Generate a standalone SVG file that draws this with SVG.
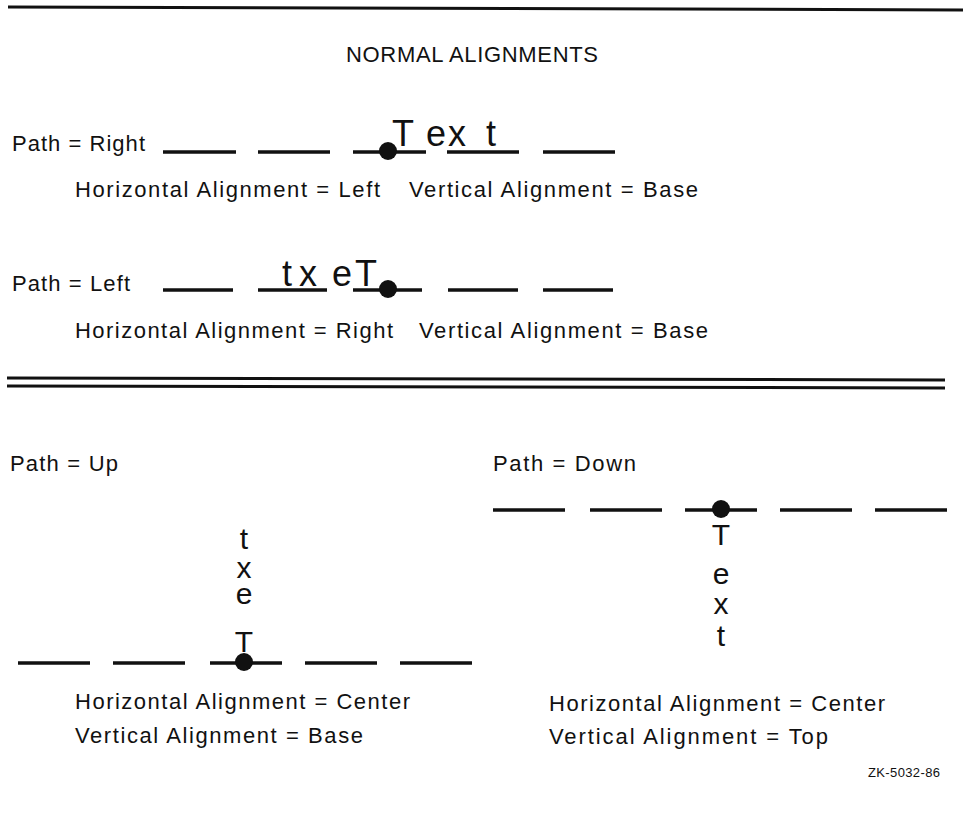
<svg xmlns="http://www.w3.org/2000/svg" width="972" height="819" viewBox="0 0 972 819">
<style>
.lbl{font-family:"Liberation Sans",Arial,sans-serif;font-size:22px;fill:#111}
.big{font-family:"Liberation Sans",Arial,sans-serif;font-size:36px;fill:#111}
.vt{font-family:"Liberation Sans",Arial,sans-serif;font-size:30px;fill:#111;text-anchor:middle}
.ln{stroke:#111;stroke-width:3.5;fill:none}
.rule{stroke:#111;stroke-width:3;fill:none}
.dot{fill:#111}
</style>
<rect width="972" height="819" fill="#fff"/>
<g id="rules">
<line class="rule" x1="8" y1="7" x2="963" y2="10"/>
<line class="rule" x1="7" y1="378" x2="945" y2="380"/>
<line class="rule" x1="7" y1="386" x2="945" y2="388"/>
</g>
<text class="lbl" x="346" y="62" textLength="252">NORMAL ALIGNMENTS</text>

<g id="row-right">
<text class="lbl" x="12" y="151" textLength="133">Path = Right</text>
<g class="ln">
<line x1="163" y1="152" x2="236" y2="152"/>
<line x1="258" y1="152" x2="330" y2="152"/>
<line x1="353" y1="152" x2="426" y2="152"/>
<line x1="447" y1="152" x2="519" y2="152"/>
<line x1="543" y1="152" x2="615" y2="152"/>
</g>
<circle class="dot" cx="388" cy="151" r="9"/>
<text class="big" x="392" y="146">T</text>
<text class="big" x="426" y="146">e</text>
<text class="big" x="448" y="146">x</text>
<text class="big" x="486" y="146">t</text>
<text class="lbl" x="75" y="197" textLength="305">Horizontal Alignment = Left</text>
<text class="lbl" x="409" y="197" textLength="289">Vertical Alignment = Base</text>
</g>

<g id="row-left">
<text class="lbl" x="12" y="291" textLength="118">Path = Left</text>
<g class="ln">
<line x1="163" y1="290" x2="233" y2="290"/>
<line x1="258" y1="290" x2="327" y2="290"/>
<line x1="353" y1="290" x2="422" y2="290"/>
<line x1="448" y1="290" x2="518" y2="290"/>
<line x1="543" y1="290" x2="613" y2="290"/>
</g>
<circle class="dot" cx="388" cy="289" r="9"/>
<text class="big" x="282" y="286">t</text>
<text class="big" x="299" y="286">x</text>
<text class="big" x="332" y="286">e</text>
<text class="big" x="355" y="286">T</text>
<text class="lbl" x="75" y="338" textLength="318">Horizontal Alignment = Right</text>
<text class="lbl" x="419" y="338" textLength="289">Vertical Alignment = Base</text>
</g>

<g id="col-up">
<text class="lbl" x="10" y="471" textLength="108">Path = Up</text>
<g class="ln">
<line x1="18" y1="663" x2="90" y2="663"/>
<line x1="113" y1="663" x2="185" y2="663"/>
<line x1="210" y1="663" x2="282" y2="663"/>
<line x1="305" y1="663" x2="377" y2="663"/>
<line x1="400" y1="663" x2="472" y2="663"/>
</g>
<circle class="dot" cx="244" cy="662" r="9"/>
<text class="vt" x="244" y="549">t</text>
<text class="vt" x="244" y="578">x</text>
<text class="vt" x="244" y="604">e</text>
<text class="vt" x="244" y="652">T</text>
<text class="lbl" x="75" y="709" textLength="335">Horizontal Alignment = Center</text>
<text class="lbl" x="75" y="743" textLength="288">Vertical Alignment = Base</text>
</g>

<g id="col-down">
<text class="lbl" x="493" y="471" textLength="143">Path = Down</text>
<g class="ln">
<line x1="493" y1="510" x2="565" y2="510"/>
<line x1="590" y1="510" x2="662" y2="510"/>
<line x1="685" y1="510" x2="757" y2="510"/>
<line x1="780" y1="510" x2="852" y2="510"/>
<line x1="875" y1="510" x2="947" y2="510"/>
</g>
<circle class="dot" cx="721" cy="509" r="9"/>
<text class="vt" x="721" y="545">T</text>
<text class="vt" x="721" y="584">e</text>
<text class="vt" x="721" y="614">x</text>
<text class="vt" x="721" y="646">t</text>
<text class="lbl" x="549" y="711" textLength="336">Horizontal Alignment = Center</text>
<text class="lbl" x="549" y="744" textLength="279">Vertical Alignment = Top</text>
</g>

<text class="lbl" x="868" y="777" style="font-size:13px" textLength="72">ZK-5032-86</text>
</svg>
